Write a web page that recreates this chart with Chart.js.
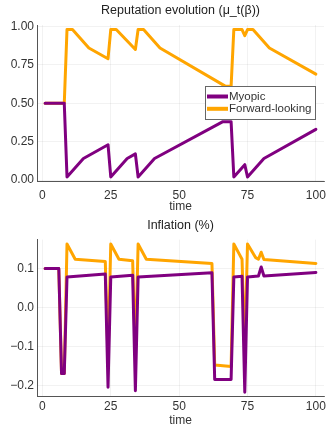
<!DOCTYPE html>
<html>
<head>
<meta charset="utf-8">
<script src="https://cdn.jsdelivr.net/npm/chart.js@4.4.1/dist/chart.umd.min.js"></script>
<style>
    html, body { margin: 0; padding: 0; background: #fff; }
    .panel { position: absolute; left: 0; }
    canvas { display: block; }
</style>
</head>
<body>
<div class="panel" style="top:0"><canvas id="repChart" width="327" height="212"></canvas></div>
<div class="panel" style="top:212px"><canvas id="inflChart" width="327" height="214"></canvas></div>
<script>
// series labels / colours
const seriesNames = ['Myopic', 'Forward-looking'];
const seriesColors = ['#800080', '#FFA500'];

// reputation mu_t(beta), read at the kinks of each line
const repMyopicT = [1, 8, 9, 15, 24, 25, 31, 34, 35, 41, 66, 69, 70, 74, 75, 81, 100];
const repMyopicV = [0.5, 0.5, 0.02, 0.14, 0.23, 0.02, 0.14, 0.17, 0.02, 0.14, 0.38, 0.38, 0.02, 0.10, 0.02, 0.14, 0.33];
const repForwardT = [1, 8, 9, 11, 17, 24, 25, 27, 34, 35, 37, 43, 67, 69, 70, 73, 74, 75, 77, 83, 100];
const repForwardV = [0.5, 0.5, 0.98, 0.98, 0.86, 0.79, 0.98, 0.98, 0.85, 0.98, 0.98, 0.86, 0.61, 0.61, 0.98, 0.98, 0.94, 0.98, 0.98, 0.86, 0.69];

// inflation (%)
const inflMyopicT = [1, 6, 7, 8, 9, 23, 24, 25, 33, 34, 35, 62, 63, 69, 70, 73, 74, 75, 79, 80, 81, 100];
const inflMyopicV = [0.1, 0.1, -0.17, -0.17, 0.078, 0.086, -0.205, 0.078, 0.083, -0.214, 0.078, 0.089, -0.185, -0.185, 0.078, 0.08, -0.218, 0.078, 0.081, 0.104, 0.081, 0.09];
const inflForwardT = [1, 6, 7, 8, 9, 12, 23, 24, 25, 28, 33, 34, 35, 38, 62, 63, 69, 70, 72, 73, 74, 75, 78, 79, 80, 81, 100];
const inflForwardV = [0.1, 0.1, -0.17, -0.17, 0.163, 0.124, 0.118, -0.135, 0.163, 0.124, 0.12, -0.126, 0.163, 0.124, 0.113, -0.148, -0.152, 0.163, 0.137, 0.124, -0.115, 0.163, 0.128, 0.124, 0.142, 0.123, 0.113];

// tick labels
const xTicks = [0, 25, 50, 75, 100];
const repTicks = [0, 0.25, 0.5, 0.75, 1];
const inflTicks = [-0.2, -0.1, 0, 0.1];

const FONT = "'Liberation Sans', Arial, sans-serif";
const TEXT = '#333';

function pts(ts, vs) {
    return ts.map((t, i) => ({ x: t, y: vs[i] }));
}

function lineSet(i, ts, vs) {
    return {
        label: seriesNames[i],
        data: pts(ts, vs),
        borderColor: seriesColors[i],
        backgroundColor: seriesColors[i],
        borderWidth: 3,
        pointRadius: 0,
        tension: 0,
        borderJoinStyle: 'round',
        borderCapStyle: 'round'
    };
}

// legend drawn inside the plot, like the Plots.jl one
const insideLegend = {
    id: 'insideLegend',
    afterDraw(chart, args, opts) {
        if (!opts.show) return;
        const ctx = chart.ctx;
        const x = opts.x, y = opts.y, w = opts.w, h = opts.h;
        ctx.save();
        ctx.fillStyle = '#fff';
        ctx.fillRect(x, y, w, h);
        ctx.strokeStyle = '#666';
        ctx.lineWidth = 1;
        ctx.strokeRect(x + 0.5, y + 0.5, w, h);
        ctx.font = '11.5px ' + FONT;
        ctx.textBaseline = 'middle';
        chart.data.datasets.forEach((ds, i) => {
            const ly = y + 10.5 + i * 12.3;
            ctx.strokeStyle = ds.borderColor;
            ctx.lineWidth = 4;
            ctx.beginPath();
            ctx.moveTo(x + 2, ly);
            ctx.lineTo(x + 23, ly);
            ctx.stroke();
            ctx.fillStyle = TEXT;
            ctx.fillText(ds.label, x + 24, ly + 0.5);
        });
        ctx.restore();
    }
};

function makeChart(id, cfg) {
    const gridColor = 'rgba(0,0,0,0.09)';
    return new Chart(document.getElementById(id), {
        type: 'line',
        data: { datasets: cfg.datasets },
        plugins: [insideLegend],
        options: {
            responsive: false,
            animation: false,
            devicePixelRatio: 1,
            layout: { padding: { left: 0, right: 3, top: 0, bottom: 0 } },
            plugins: {
                legend: { display: false },
                tooltip: { enabled: false },
                title: {
                    display: true,
                    text: cfg.title,
                    fullSize: false,
                    color: '#222',
                    font: { family: FONT, size: 12.5, weight: 'normal' },
                    padding: cfg.titlePad
                },
                insideLegend: cfg.legend || { show: false }
            },
            scales: {
                x: {
                    type: 'linear',
                    min: -1.97,
                    max: 102.97,
                    afterBuildTicks: s => { s.ticks = xTicks.map(v => ({ value: v })); },
                    afterFit: s => {
                        s.height = cfg.xHeight;
                        s.paddingLeft = 0;
                        s.paddingRight = 0;
                    },
                    ticks: {
                        color: TEXT,
                        padding: cfg.xTickPad,
                        maxRotation: 0,
                        autoSkip: false,
                        font: { family: FONT, size: 12 }
                    },
                    grid: { color: gridColor, lineWidth: 0.6, drawTicks: false },
                    border: { color: '#555', width: 1 },
                    title: {
                        display: true,
                        text: 'time',
                        color: TEXT,
                        font: { family: FONT, size: 12 },
                        padding: { top: 0, bottom: -2 }
                    }
                },
                y: {
                    min: cfg.yMin,
                    max: cfg.yMax,
                    afterBuildTicks: s => { s.ticks = cfg.yTicks.map(v => ({ value: v })); },
                    afterFit: s => { s.width = 37; },
                    ticks: {
                        color: TEXT,
                        padding: 3,
                        autoSkip: false,
                        font: { family: FONT, size: 12 },
                        callback: cfg.fmt
                    },
                    grid: { color: gridColor, lineWidth: 0.6, drawTicks: false },
                    border: { color: '#555', width: 1 }
                }
            }
        }
    });
}

makeChart('repChart', {
    title: 'Reputation evolution (μ_t(β))',
    titlePad: { top: 3, bottom: 7 },
    datasets: [lineSet(0, repMyopicT, repMyopicV), lineSet(1, repForwardT, repForwardV)],
    yMin: -0.0096,
    yMax: 1.0096,
    yTicks: repTicks,
    fmt: v => v.toFixed(2),
    xHeight: 30.5,
    xTickPad: 7,
    legend: { show: true, x: 205, y: 86, w: 110, h: 33 }
});

makeChart('inflChart', {
    title: 'Inflation (%)',
    titlePad: { top: 6, bottom: 6.6 },
    datasets: [lineSet(0, inflMyopicT, inflMyopicV), lineSet(1, inflForwardT, inflForwardV)],
    yMin: -0.2294,
    yMax: 0.1744,
    yTicks: inflTicks,
    fmt: v => v.toFixed(1).replace('-', '\u2212'),
    xHeight: 29.3,
    xTickPad: 3
});
</script>
</body>
</html>
